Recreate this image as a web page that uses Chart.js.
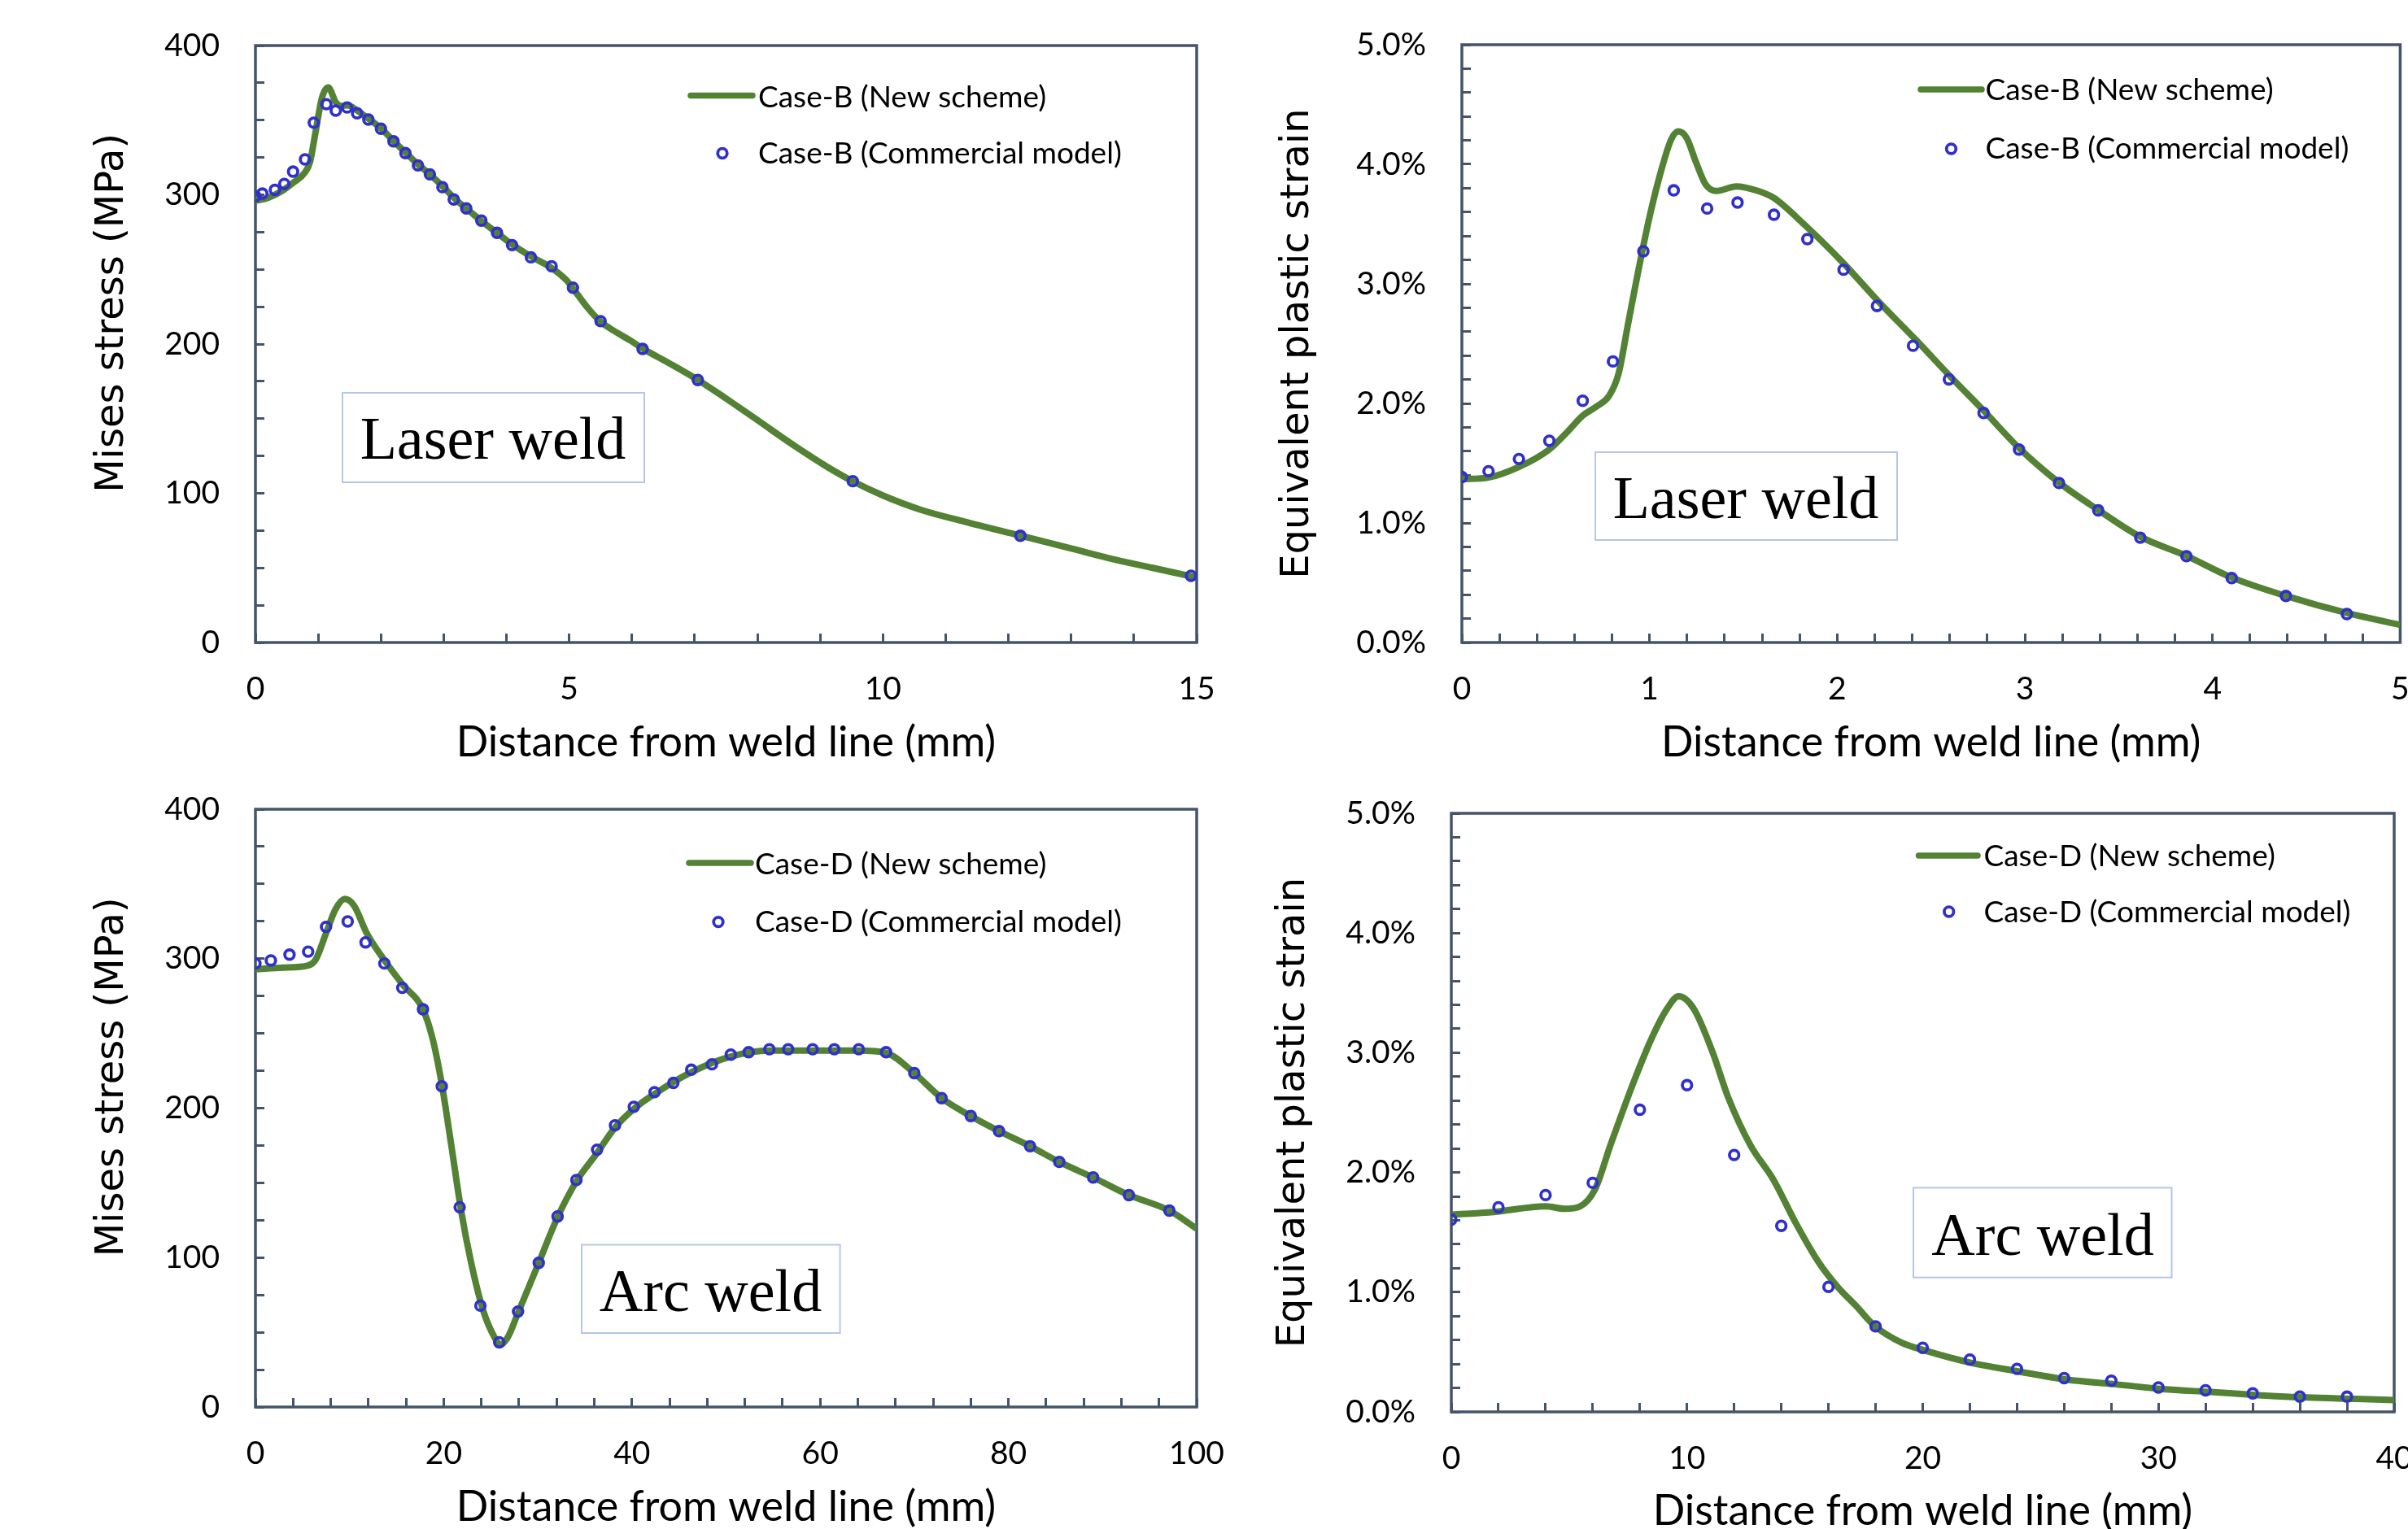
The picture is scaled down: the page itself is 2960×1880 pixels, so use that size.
<!DOCTYPE html>
<html>
<head>
<meta charset="utf-8">
<title>Mises stress / plastic strain - laser and arc weld</title>
<script src="https://cdn.jsdelivr.net/npm/chart.js@4.4.1/dist/chart.umd.min.js"></script>
<style>
html,body{margin:0;padding:0;background:#fff;}
#wrap{position:relative;width:2960px;height:1880px;overflow:hidden;background:#fff;}
#wrap canvas{position:absolute;}
</style>
</head>
<body>
<div id="wrap">
  <canvas id="cLaserStress" width="1540" height="940" style="left:0;top:0"></canvas>
  <canvas id="cLaserStrain" width="1420" height="940" style="left:1540px;top:0"></canvas>
  <canvas id="cArcStress" width="1540" height="940" style="left:0;top:940px"></canvas>
  <canvas id="cArcStrain" width="1420" height="940" style="left:1540px;top:940px"></canvas>
</div>
<script>
// ---- datos ----
// Laser weld, Mises stress (MPa)
const laserStressLineX = [0,0.2,0.44,0.6,0.78,0.87,0.95,1.06,1.16,1.28,1.36,1.47,1.62,1.8,2.0,2.2,2.4,2.6,2.8,3.0,3.2,3.4,3.6,3.85,4.1,4.4,4.72,4.95,5.1,5.3,5.5,5.65,5.97,6.17,6.6,7.05,7.5,8.0,8.6,9.1,9.52,10.0,10.6,11.3,12.2,13.0,13.6,14.3,15.0];
const laserStressLineY = [296,298,303,308,314.5,322,340,365,372,362,359.5,360,356.5,351,344.5,336,328,320,313,305,296.5,289.5,282.5,274.5,266.5,258.5,251,243,235,224,215,210.5,202.5,197,187,176,163.5,149,131.5,118,108,98.5,89,81,71.5,63,56.5,50,43.5];
const laserStressDotX = [0,0.11,0.31,0.46,0.6,0.79,0.93,1.13,1.28,1.46,1.62,1.8,2.0,2.2,2.39,2.59,2.78,2.98,3.16,3.36,3.6,3.85,4.09,4.39,4.72,5.06,5.5,6.17,7.05,9.52,12.19,14.91];
const laserStressDotY = [299,300.8,303.3,307.3,315.5,323.7,348.3,360.7,356.4,358.5,354.6,350.4,344.3,335.8,327.9,319.7,313.7,305.1,296.9,290.9,282.7,274.5,266.3,258.1,252.1,237.7,215.3,196.7,175.9,108.1,71.5,44.7];

// Laser weld, equivalent plastic strain (%)
const laserStrainLineX = [0,0.142,0.306,0.466,0.555,0.644,0.72,0.786,0.835,0.885,0.934,1.0,1.066,1.116,1.154,1.198,1.248,1.298,1.356,1.462,1.578,1.661,1.826,2.024,2.222,2.42,2.6,2.78,2.97,3.18,3.39,3.615,3.86,4.1,4.39,4.72,5.0];
const laserStrainLineY = [1.366,1.38,1.47,1.615,1.75,1.898,1.977,2.067,2.25,2.66,3.06,3.56,3.97,4.21,4.275,4.22,4.015,3.834,3.777,3.815,3.777,3.72,3.494,3.188,2.849,2.53,2.23,1.94,1.625,1.34,1.11,0.885,0.725,0.545,0.39,0.245,0.148];
const laserStrainDotX = [0,0.142,0.304,0.466,0.644,0.805,0.967,1.129,1.307,1.469,1.663,1.841,2.034,2.212,2.404,2.595,2.78,2.969,3.182,3.391,3.615,3.861,4.102,4.391,4.716];
const laserStrainDotY = [1.384,1.433,1.535,1.687,2.022,2.351,3.272,3.782,3.63,3.68,3.578,3.374,3.118,2.815,2.482,2.201,1.92,1.614,1.334,1.105,0.877,0.722,0.539,0.389,0.238];

// Arc weld, Mises stress (MPa)
const arcStressLineX = [0,3,5.6,6.4,7.5,8.5,9.5,10.5,11.8,13.7,15.6,17.8,18.8,19.8,20.8,21.9,22.9,24.2,25.4,26.0,26.8,27.9,30.1,32.1,34.1,36.3,38.2,40.2,42.4,46.3,50.5,54.6,59.2,64.1,67.0,70.0,72.9,76.0,79.0,82.3,85.4,89.0,92.8,97.1,100];
const arcStressLineY = [292.9,294,295.5,299.4,317,333,340,335.3,317.4,299,283,266,247,216,175.5,129.7,97.1,64.5,46.6,41.7,46.6,63,96.5,127,151,170,187,199.5,209.5,224,234.5,238.5,238.5,238.5,237,223.4,206.7,194.7,184.6,174.5,164,153.6,141.8,131.4,119.3];
const arcStressDotX = [0,1.64,3.62,5.6,7.5,9.8,11.7,13.7,15.6,17.8,19.8,21.7,23.9,25.9,27.9,30.1,32.1,34.1,36.3,38.2,40.2,42.4,44.4,46.3,48.5,50.5,52.4,54.6,56.6,59.2,61.5,64.1,67.0,70.0,72.9,76.0,79.0,82.3,85.4,89.0,92.8,97.1];
const arcStressDotY = [296.8,298.8,302.7,304.7,321.3,324.9,310.9,296.8,280.5,266.1,214.6,133.7,67.8,43.3,63.9,96.5,127.5,151.9,172.2,188.5,200.9,210.7,216.9,225.7,229.3,235.8,237.4,239.4,239.4,239.4,239.4,239.4,237.4,223.4,206.7,194.7,184.6,174.5,164,153.6,141.8,131.4];

// Arc weld, equivalent plastic strain (%)
const arcStrainLineX = [0,1.8,4.0,4.8,5.46,6.1,6.75,7.74,8.51,9.16,9.64,10.28,11.09,11.73,12.69,13.66,14.62,15.59,16.39,17.19,17.96,19.12,20.05,22,24,26.1,28.2,30.2,32.2,34.25,36.3,38.4,40];
const arcStrainLineY = [1.648,1.67,1.717,1.697,1.717,1.86,2.227,2.757,3.125,3.369,3.471,3.369,3.002,2.635,2.227,1.941,1.575,1.248,1.044,0.881,0.718,0.576,0.515,0.412,0.34,0.27,0.23,0.19,0.166,0.14,0.12,0.108,0.098];
const arcStrainDotX = [0,2,4,6,8,10,12,14,16,18,20,22,24,26,28,30,32,34,36,38];
const arcStrainDotY = [1.607,1.709,1.811,1.913,2.524,2.729,2.146,1.554,1.044,0.714,0.535,0.437,0.359,0.282,0.261,0.204,0.18,0.155,0.127,0.127];

// ---- estilos ----
const GREEN = '#548235';
const BLUE = '#3030CC';
const AXIS = '#44546A';
const TICK_FONT = {family:'Lato', size:39};
const XTITLE_FONT = {family:'Lato', size:52, lineHeight:1.0};
const YTITLE_FONT = {family:'DejaVu Sans', size:48};
const DOT_R = 5.8, DOT_W = 3.8;

function pts(xs, ys){ return xs.map((x,i)=>({x:x, y:ys[i]})); }
function isMult(v, m){ const r = v/m; return Math.abs(r-Math.round(r)) < 1e-6; }

// marco, leyenda y recuadro de texto
const decoPlugin = {
  id:'deco',
  beforeDatasetsDraw(chart){
    const a = chart.chartArea, ctx = chart.ctx;
    ctx.save();
    ctx.strokeStyle = AXIS; ctx.lineWidth = 3.5;
    ctx.strokeRect(a.left, a.top, a.right-a.left, a.bottom-a.top);
    ctx.restore();
  },
  afterDatasetsDraw(chart, args, o){
    const ctx = chart.ctx, n = o.note, lg = o.legend;
    ctx.save();
    // recuadro
    ctx.fillStyle = '#fff';
    ctx.fillRect(n.x, n.y, n.w, n.h);
    ctx.strokeStyle = '#B4C7E7'; ctx.lineWidth = 2;
    ctx.strokeRect(n.x, n.y, n.w, n.h);
    ctx.fillStyle = '#000';
    ctx.font = '74px "Liberation Serif", "Times New Roman", serif';
    ctx.textAlign = 'center'; ctx.textBaseline = 'alphabetic';
    ctx.fillText(n.text, n.cx, n.base);
    // leyenda
    const ds = chart.data.datasets;
    ctx.strokeStyle = GREEN; ctx.lineWidth = 7.5; ctx.lineCap = 'round';
    ctx.beginPath(); ctx.moveTo(lg.x1, lg.y1); ctx.lineTo(lg.x2, lg.y1); ctx.stroke();
    ctx.strokeStyle = BLUE; ctx.lineWidth = DOT_W;
    ctx.beginPath(); ctx.arc(lg.dx, lg.y2, DOT_R, 0, Math.PI*2); ctx.stroke();
    ctx.font = '37px Lato';
    ctx.textAlign = 'left'; ctx.textBaseline = 'middle'; ctx.fillStyle = '#000';
    ctx.fillText(ds[0].label, lg.tx, lg.t1);
    ctx.fillText(ds[1].label, lg.tx, lg.t2);
    ctx.restore();
  }
};

function makePanel(id, p){
  const canvas = document.getElementById(id);
  const W = canvas.width, H = canvas.height;
  return new Chart(canvas, {
    type:'line',
    data:{datasets:[
      {label:p.lineLabel, data:pts(p.lineX,p.lineY), borderColor:GREEN, borderWidth:8, pointRadius:0,
       cubicInterpolationMode:'monotone', fill:false, order:2},
      {label:p.dotLabel, data:pts(p.dotX,p.dotY), showLine:false, pointRadius:DOT_R, pointBorderWidth:DOT_W,
       pointBorderColor:BLUE, pointBackgroundColor:'rgba(0,0,0,0)', borderColor:BLUE, order:1}
    ]},
    options:{
      responsive:false, animation:false, devicePixelRatio:1,
      layout:{padding:{left:0, top:p.area.top, right:W-p.area.right, bottom:0}},
      plugins:{legend:{display:false}, tooltip:{enabled:false}, deco:{legend:p.legend, note:p.note}},
      scales:{
        x:{
          type:'linear', min:0, max:p.xMax,
          border:{display:false},
          grid:{drawOnChartArea:false, drawTicks:true, tickLength:-11, tickWidth:3, tickColor:AXIS},
          ticks:{stepSize:p.xStep, autoSkip:false, maxRotation:0, padding:45, color:'#000', font:TICK_FONT,
                 callback:v=> isMult(v,p.xEvery) ? String(Math.round(v)) : ''},
          title:{display:true, text:'Distance from weld line (mm)', color:'#000', font:XTITLE_FONT, padding:{top:0,bottom:p.xTitlePad}},
          afterFit:s=>{ s.height = H - p.area.bottom; s.paddingLeft = 0; s.paddingRight = 0; }
        },
        y:{
          type:'linear', min:0, max:p.yMax,
          border:{display:false},
          grid:{drawOnChartArea:false, drawTicks:true, tickLength:-11, tickWidth:3, tickColor:AXIS},
          ticks:{stepSize:p.yStep, autoSkip:false, padding:55, color:'#000', font:TICK_FONT, callback:p.yLabel},
          title:{display:true, text:p.yTitle, color:'#000', font:YTITLE_FONT, padding:{top:p.yTitlePad, bottom:0}},
          afterFit:s=>{ s.width = p.area.left; s.paddingTop = 0; s.paddingBottom = 0; }
        }
      }
    },
    plugins:[decoPlugin]
  });
}

const stressLabel = v=> isMult(v,100) ? String(Math.round(v)) : '';
const strainLabel = v=> isMult(v,1) ? v.toFixed(1)+'%' : '';

makePanel('cLaserStress', {
  lineX:laserStressLineX, lineY:laserStressLineY, dotX:laserStressDotX, dotY:laserStressDotY,
  lineLabel:'Case-B (New scheme)', dotLabel:'Case-B (Commercial model)',
  area:{left:314, top:56, right:1471, bottom:790},
  xMax:15, xStep:1, xEvery:5, yMax:400, yStep:25, yLabel:stressLabel,
  yTitle:'     Mises stress (MPa)', yTitlePad:110, xTitlePad:1,
  legend:{x1:849, x2:925, y1:117.5, dx:888, y2:188.5, tx:932, t1:120.5, t2:189},
  note:{x:421, y:483, w:371, h:110, text:'Laser weld', cx:606, base:564}
});

makePanel('cLaserStrain', {
  lineX:laserStrainLineX, lineY:laserStrainLineY, dotX:laserStrainDotX, dotY:laserStrainDotY,
  lineLabel:'Case-B (New scheme)', dotLabel:'Case-B (Commercial model)',
  area:{left:257, top:55, right:1415, bottom:790},
  xMax:5, xStep:0.2, xEvery:1, yMax:5, yStep:0.2, yLabel:strainLabel,
  yTitle:'Equivalent plastic strain', yTitlePad:27, xTitlePad:1,
  legend:{x1:821, x2:896, y1:110, dx:858.5, y2:183, tx:900.5, t1:111, t2:183},
  note:{x:421, y:556, w:371, h:108, text:'Laser weld', cx:606, base:637}
});

makePanel('cArcStress', {
  lineX:arcStressLineX, lineY:arcStressLineY, dotX:arcStressDotX, dotY:arcStressDotY,
  lineLabel:'Case-D (New scheme)', dotLabel:'Case-D (Commercial model)',
  area:{left:314, top:55, right:1471, bottom:790},
  xMax:100, xStep:4, xEvery:20, yMax:400, yStep:25, yLabel:stressLabel,
  yTitle:'     Mises stress (MPa)', yTitlePad:110, xTitlePad:1,
  legend:{x1:847, x2:923, y1:121, dx:883, y2:193.6, tx:928, t1:123, t2:194},
  note:{x:715, y:590.5, w:317.6, h:108.5, text:'Arc weld', cx:873.5, base:671.5}
});

makePanel('cArcStrain', {
  lineX:arcStrainLineX, lineY:arcStrainLineY, dotX:arcStrainDotX, dotY:arcStrainDotY,
  lineLabel:'Case-D (New scheme)', dotLabel:'Case-D (Commercial model)',
  area:{left:244, top:60, right:1403, bottom:796},
  xMax:40, xStep:2, xEvery:10, yMax:5, yStep:0.2, yLabel:strainLabel,
  yTitle:'Equivalent plastic strain', yTitlePad:22, xTitlePad:-4,
  legend:{x1:818.5, x2:891, y1:112, dx:855.7, y2:181, tx:898.5, t1:113, t2:182},
  note:{x:812, y:520.4, w:317.5, h:110.3, text:'Arc weld', cx:971, base:602.5}
});
</script>
</body>
</html>
